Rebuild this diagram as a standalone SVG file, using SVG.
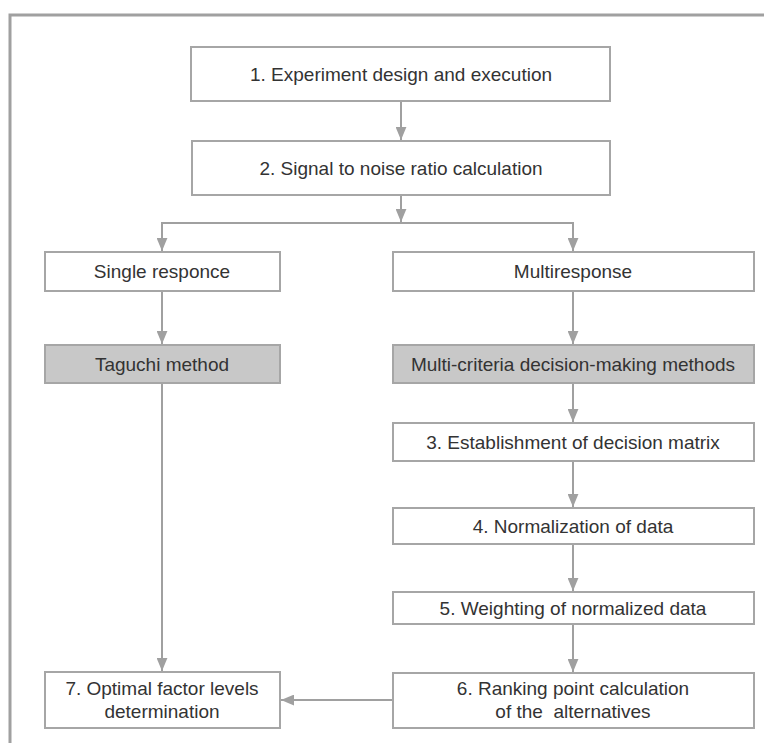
<svg xmlns="http://www.w3.org/2000/svg" width="764" height="743" viewBox="0 0 764 743">
<style>
.box{fill:#ffffff;stroke:#a6a6a6;stroke-width:2}
.gbox{fill:#c8c8c8;stroke:#a6a6a6;stroke-width:2}
.lbl{font-family:"Liberation Sans",Arial,sans-serif;font-size:19px;fill:#333333;text-anchor:middle}
.con{fill:none;stroke:#a0a0a0;stroke-width:2}
</style>
<defs>
<marker id="ah" markerWidth="13" markerHeight="11" refX="12" refY="5" orient="auto" markerUnits="userSpaceOnUse" viewBox="0 0 12 10">
<path d="M0,0 L12,5 L0,10 Z" fill="#a0a0a0"/>
</marker>
</defs>
<rect width="764" height="743" fill="#ffffff"/>
<path d="M10,743 L10,15 L764,15" fill="none" stroke="#a0a0a0" stroke-width="3"/>
<g id="connectors">
<line class="con" x1="401" y1="101" x2="401" y2="140" marker-end="url(#ah)"/>
<line class="con" x1="401" y1="195" x2="401" y2="222" marker-end="url(#ah)"/>
<path class="con" d="M162,240 L162,223 L573,223 L573,240"/>
<line class="con" x1="162" y1="230" x2="162" y2="251" marker-end="url(#ah)"/>
<line class="con" x1="573" y1="230" x2="573" y2="251" marker-end="url(#ah)"/>
<line class="con" x1="162" y1="291" x2="162" y2="344" marker-end="url(#ah)"/>
<line class="con" x1="573" y1="291" x2="573" y2="344" marker-end="url(#ah)"/>
<line class="con" x1="573" y1="383" x2="573" y2="422" marker-end="url(#ah)"/>
<line class="con" x1="573" y1="461" x2="573" y2="507" marker-end="url(#ah)"/>
<line class="con" x1="573" y1="544" x2="573" y2="591" marker-end="url(#ah)"/>
<line class="con" x1="573" y1="624" x2="573" y2="672" marker-end="url(#ah)"/>
<line class="con" x1="162" y1="383" x2="162" y2="671" marker-end="url(#ah)"/>
<line class="con" x1="393" y1="700" x2="281" y2="700" marker-end="url(#ah)"/>
</g>
<g id="n1"><rect class="box" x="191" y="47" width="419" height="54"/><text class="lbl" x="401" y="81">1. Experiment design and execution</text></g>
<g id="n2"><rect class="box" x="192" y="141" width="418" height="54"/><text class="lbl" x="401" y="175">2. Signal to noise ratio calculation</text></g>
<g id="single"><rect class="box" x="45" y="252" width="235" height="39"/><text class="lbl" x="162" y="278">Single responce</text></g>
<g id="multi"><rect class="box" x="393" y="252" width="361" height="39"/><text class="lbl" x="573" y="278">Multiresponse</text></g>
<g id="taguchi"><rect class="gbox" x="45" y="345" width="235" height="38"/><text class="lbl" x="162" y="371">Taguchi method</text></g>
<g id="mcdm"><rect class="gbox" x="393" y="345" width="361" height="38"/><text class="lbl" x="573" y="371">Multi-criteria decision-making methods</text></g>
<g id="n3"><rect class="box" x="393" y="423" width="361" height="38"/><text class="lbl" x="573" y="449">3. Establishment of decision matrix</text></g>
<g id="n4"><rect class="box" x="393" y="508" width="361" height="36"/><text class="lbl" x="573" y="533">4. Normalization of data</text></g>
<g id="n5"><rect class="box" x="393" y="592" width="361" height="32"/><text class="lbl" x="573" y="615">5. Weighting of normalized data</text></g>
<g id="n6"><rect class="box" x="393" y="673" width="361" height="55"/><text class="lbl" x="573" y="695">6. Ranking point calculation</text><text class="lbl" x="573" y="718" xml:space="preserve">of the  alternatives</text></g>
<g id="n7"><rect class="box" x="45" y="672" width="235" height="56"/><text class="lbl" x="162" y="695">7. Optimal factor levels</text><text class="lbl" x="162" y="718">determination</text></g>
</svg>
